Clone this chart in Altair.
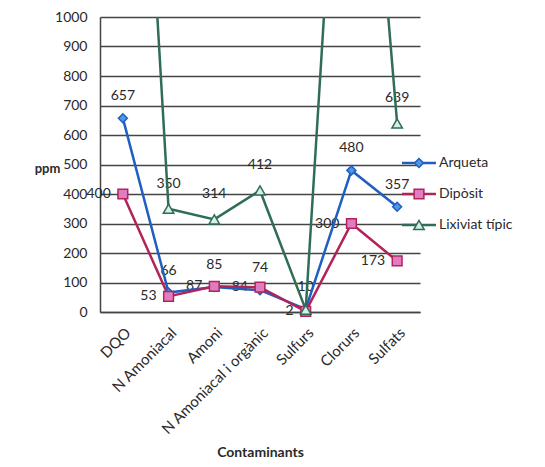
import altair as alt
import pandas as pd

categories = ["DQO", "N Amoniacal", "Amoni", "N Amoniacal i orgànic", "Sulfurs", "Clorurs", "Sulfats"]
series = ["Arqueta", "Dipòsit", "Lixiviat típic"]
arqueta = [657, 66, 85, 74, 10, 480, 357]
diposit = [400, 53, 87, 84, 2, 300, 173]
lixiviat = [3000, 350, 314, 412, 8, 2500, 639]
y_ticks = [0, 100, 200, 300, 400, 500, 600, 700, 800, 900, 1000]

line_colors = ["#1f5fc0", "#b0245a", "#2f6e55"]
fill_colors = ["#4f97e0", "#e27cc0", "#d6eeee"]
shapes = ["diamond", "square", "triangle-up"]
sizes = [80, 110, 120]

rows = []
for s, vals in zip(series, [arqueta, diposit, lixiviat]):
    for c, v in zip(categories, vals):
        rows.append({"series": s, "cat": c, "value": v})
df = pd.DataFrame(rows)
legend_df = pd.DataFrame({"series": series})

FONT = "Lato"
TXT = "#2a2a2a"

stroke_scale = alt.Scale(domain=series, range=line_colors)
fill_scale = alt.Scale(domain=series, range=fill_colors)
shape_scale = alt.Scale(domain=series, range=shapes)
size_scale = alt.Scale(domain=series, range=sizes)

x_enc = alt.X(
    "cat:N", sort=categories,
    scale=alt.Scale(type="point", padding=0.5),
    axis=alt.Axis(title="Contaminants", labelAngle=-45, labelFontSize=15, labelColor=TXT,
                  labelFont=FONT, titleFont=FONT, titleFontSize=14, titleColor=TXT,
                  titleFontWeight="bold", ticks=False, domainColor="#444", domainWidth=1.5,
                  labelPadding=13, titleY=133, titleBaseline="top"),
)
y_scale = alt.Scale(domain=[0, 1000], nice=False)
y_axis = alt.Axis(title="ppm", values=y_ticks, format="d", titleAngle=0, titleX=-53, titleY=151,
                  titleAlign="center", titleBaseline="middle", labelFontSize=14,
                  labelColor=TXT, labelFont=FONT, titleFont=FONT, titleFontSize=13,
                  titleColor=TXT, titleFontWeight="bold", grid=True, gridColor="#444",
                  gridWidth=1.3, ticks=False, domainColor="#444", domainWidth=1.5,
                  labelPadding=13)
y_enc = alt.Y("value:Q", scale=y_scale, axis=y_axis)

base = alt.Chart(df)

lines = base.mark_line(strokeWidth=2.5, clip=True).encode(
    x=x_enc, y=y_enc,
    stroke=alt.Stroke("series:N", scale=stroke_scale, legend=None),
)

points = base.transform_filter("datum.value <= 1000").mark_point(
    filled=True, strokeWidth=1.5, opacity=1
).encode(
    x=x_enc, y=y_enc,
    shape=alt.Shape("series:N", scale=shape_scale, legend=None),
    fill=alt.Fill("series:N", scale=fill_scale, legend=None),
    stroke=alt.Stroke("series:N", scale=stroke_scale, legend=None),
    size=alt.Size("series:N", scale=size_scale, legend=None),
)

def labels(cond, **kw):
    return base.transform_filter(
        cond + " && datum.value <= 1000"
    ).mark_text(font=FONT, fontSize=14, color=TXT, **kw).encode(
        x=x_enc, y=y_enc,
        text=alt.Text("value:Q", format="d"),
    )

lab_a = labels("datum.series == 'Arqueta'", dy=-22, align="center", baseline="middle")
lab_d = labels("datum.series == 'Dipòsit'", dx=-12, align="right", baseline="middle")
lab_l = labels("datum.series == 'Lixiviat típic' && datum.cat != 'Sulfurs'", dy=-25,
               align="center", baseline="middle")

main = alt.layer(lab_a, lab_d, lab_l, lines, points)

leg_y = alt.Y("series:N", sort=series, scale=alt.Scale(type="point", range=[146, 208], padding=0), axis=None)
leg_base = alt.Chart(legend_df)
leg_rule = leg_base.mark_rule(strokeWidth=2.5).encode(
    y=leg_y, x=alt.value(302), x2=alt.value(336),
    stroke=alt.Stroke("series:N", scale=stroke_scale, legend=None),
)
leg_pt = leg_base.mark_point(filled=True, strokeWidth=1.5, opacity=1).encode(
    y=leg_y, x=alt.value(319),
    shape=alt.Shape("series:N", scale=shape_scale, legend=None),
    fill=alt.Fill("series:N", scale=fill_scale, legend=None),
    stroke=alt.Stroke("series:N", scale=stroke_scale, legend=None),
    size=alt.Size("series:N", scale=size_scale, legend=None),
)
leg_txt = leg_base.mark_text(font=FONT, fontSize=14, color=TXT, align="left", baseline="middle").encode(
    y=leg_y, x=alt.value(339), text="series:N",
)
legend = alt.layer(leg_rule, leg_pt, leg_txt)

chart = alt.layer(main, legend).resolve_scale(y="independent").properties(
    width=320, height=295,
    autosize=alt.AutoSizeParams(type="none"),
    padding={"left": 92, "top": 9, "right": 117, "bottom": 150},
    background="white",
).configure_view(stroke=None)

chart.save("out.html", embed_options={"renderer": "svg", "actions": False})
